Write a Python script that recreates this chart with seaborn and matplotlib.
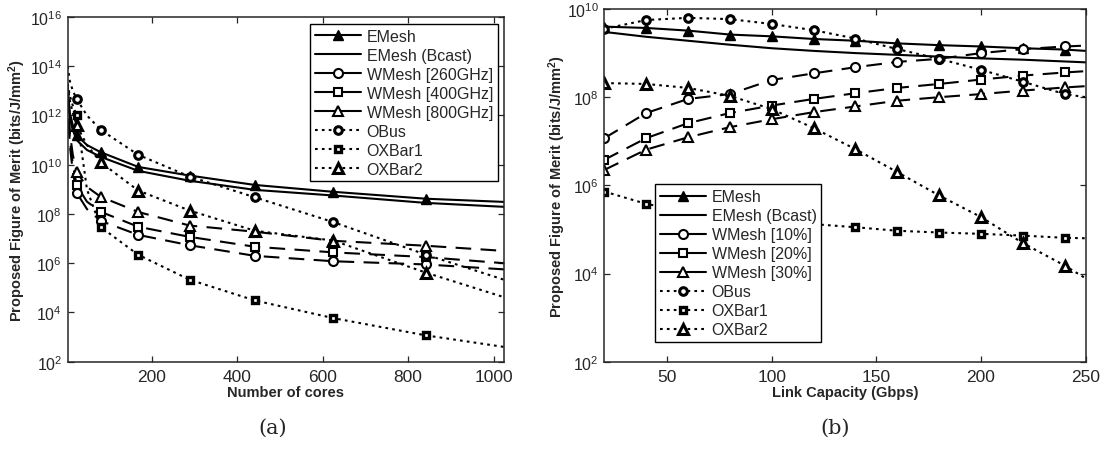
import numpy as np
import pandas as pd
import matplotlib
matplotlib.use("Agg")
import matplotlib.pyplot as plt
import seaborn as sns
from matplotlib.lines import Line2D

# ---------------- data (values stored as log10 of the figure of merit) ----------------
cores = [4, 9, 16, 25, 49, 81, 169, 289, 441, 625, 841, 1024]
cores_markers = [3, 5, 6, 7, 8, 9, 10]
cores_ticks = [200, 400, 600, 800, 1000]

a_emesh = [13.1, 12.1, 11.6, 11.2, 10.8, 10.51, 9.91, 9.56, 9.18, 8.90, 8.62, 8.49]
a_emesh_bcast = [13.0, 11.9, 11.4, 11.0, 10.6, 10.32, 9.75, 9.35, 8.98, 8.75, 8.45, 8.29]
a_wmesh_260 = [12.7, 10.8, 9.7, 8.86, 8.2, 7.72, 7.15, 6.73, 6.30, 6.08, 5.95, 5.75]
a_wmesh_400 = [12.8, 11.0, 10.0, 9.16, 8.5, 8.09, 7.48, 7.07, 6.67, 6.44, 6.25, 6.00]
a_wmesh_800 = [12.9, 11.3, 10.4, 9.71, 9.1, 8.70, 8.08, 7.53, 7.28, 6.91, 6.71, 6.50]
a_obus = [14.0, 13.4, 13.0, 12.67, 12.0, 11.42, 10.40, 9.52, 8.68, 7.67, 6.35, 5.33]
a_oxbar1 = [13.3, 12.8, 12.4, 12.0, 9.0, 7.47, 6.34, 5.33, 4.49, 3.77, 3.07, 2.60]
a_oxbar2 = [13.2, 12.6, 12.1, 11.6, 10.8, 10.1, 8.95, 8.14, 7.32, 6.92, 5.62, 4.62]
a_labels = ["EMesh", "EMesh (Bcast)", "WMesh [260GHz]", "WMesh [400GHz]",
            "WMesh [800GHz]", "OBus", "OXBar1", "OXBar2"]

link = [20, 40, 60, 80, 100, 120, 140, 160, 180, 200, 220, 240, 250]
link_markers = list(range(12))
link_ticks = [50, 100, 150, 200, 250]

b_emesh = [9.60, 9.57, 9.51, 9.42, 9.38, 9.32, 9.28, 9.22, 9.18, 9.15, 9.11, 9.08, 9.05]
b_emesh_bcast = [9.48, 9.37, 9.28, 9.19, 9.11, 9.05, 9.00, 8.96, 8.92, 8.88, 8.85, 8.81, 8.79]
b_wmesh_10 = [7.07, 7.64, 7.96, 8.07, 8.39, 8.54, 8.68, 8.80, 8.87, 9.00, 9.09, 9.15, 9.17]
b_wmesh_20 = [6.58, 7.07, 7.41, 7.64, 7.81, 7.96, 8.09, 8.21, 8.30, 8.40, 8.49, 8.56, 8.59]
b_wmesh_30 = [6.35, 6.81, 7.09, 7.32, 7.50, 7.66, 7.79, 7.92, 8.00, 8.07, 8.15, 8.22, 8.25]
b_obus = [9.55, 9.75, 9.80, 9.77, 9.66, 9.52, 9.33, 9.09, 8.87, 8.62, 8.35, 8.07, 8.00]
b_oxbar1 = [5.86, 5.58, 5.40, 5.28, 5.20, 5.12, 5.05, 4.97, 4.93, 4.90, 4.86, 4.81, 4.80]
b_oxbar2 = [8.32, 8.30, 8.21, 8.03, 7.73, 7.30, 6.82, 6.30, 5.77, 5.28, 4.69, 4.18, 3.89]
b_labels = ["EMesh", "EMesh (Bcast)", "WMesh [10%]", "WMesh [20%]",
            "WMesh [30%]", "OBus", "OXBar1", "OXBar2"]

# ---------------- styles ----------------
DASH = (0, (7.5, 4.5))
DOT = (0, (1.3, 2.0))
LW = 1.5
styles = [
    dict(ls="-", marker="^", mfc="k", mew=1.0, ms=6.5),
    dict(ls="-", marker=None, mfc="k", mew=1.0, ms=6.5),
    dict(ls=DASH, marker="o", mfc="w", mew=1.5, ms=6.5),
    dict(ls=DASH, marker="s", mfc="w", mew=1.5, ms=6),
    dict(ls=DASH, marker="^", mfc="w", mew=1.5, ms=7),
    dict(ls=DOT, marker="o", mfc="w", mew=2.2, ms=5.5),
    dict(ls=DOT, marker="s", mfc="w", mew=2.4, ms=5),
    dict(ls=DOT, marker="^", mfc="w", mew=2.2, ms=6.5),
]
legend_ls = ["-", "-", "-", "-", "-", DOT, DOT, DOT]

sns.set_style("ticks")
plt.rcParams["font.family"] = ["Liberation Sans", "DejaVu Sans"]
plt.rcParams["mathtext.fontset"] = "custom"
plt.rcParams["mathtext.rm"] = "Liberation Sans"
plt.rcParams["mathtext.it"] = "Liberation Sans:italic"
plt.rcParams["mathtext.bf"] = "Liberation Sans:bold"

fig = plt.figure(figsize=(11.05, 4.52), dpi=100)
W, H = 1105, 452
ax_a = fig.add_axes([67.7 / W, 1 - 362.7 / H, (504 - 67.7) / W, (362.7 - 18) / H])
ax_b = fig.add_axes([604.3 / W, 1 - 362.7 / H, (1085.7 - 604.3) / W, (362.7 - 10) / H])


def draw(ax, x, series, labels, mk_idx):
    for vals, lab, st in zip(series, labels, styles):
        df = pd.DataFrame({"x": x, "y": [10.0 ** v for v in vals]})
        sns.lineplot(data=df, x="x", y="y", ax=ax, color="k", lw=LW,
                     linestyle=st["ls"], marker=st["marker"], markevery=mk_idx,
                     markerfacecolor=st["mfc"], markeredgecolor="k",
                     markeredgewidth=st["mew"], markersize=st["ms"],
                     legend=False, errorbar=None)


def handles(labels):
    hs = []
    for lab, st, ls in zip(labels, styles, legend_ls):
        hs.append(Line2D([], [], color="k", lw=LW, linestyle=ls, marker=st["marker"],
                         markerfacecolor=st["mfc"], markeredgecolor="k",
                         markeredgewidth=st["mew"], markersize=st["ms"], label=lab))
    return hs


draw(ax_a, cores, [a_emesh, a_emesh_bcast, a_wmesh_260, a_wmesh_400, a_wmesh_800,
                   a_obus, a_oxbar1, a_oxbar2], a_labels, cores_markers)
draw(ax_b, link, [b_emesh, b_emesh_bcast, b_wmesh_10, b_wmesh_20, b_wmesh_30,
                  b_obus, b_oxbar1, b_oxbar2], b_labels, link_markers)

for ax in (ax_a, ax_b):
    ax.set_yscale("log")
    ax.tick_params(direction="in", top=True, right=True, length=4, width=0.9,
                   labelsize=12.5, pad=5)
    ax.tick_params(axis="y", labelsize=11.5, pad=4)
    ax.tick_params(which="minor", left=False, right=False, top=False, bottom=False)
    for s in ax.spines.values():
        s.set_linewidth(1.1)
        s.set_visible(True)
    ax.set_ylabel("Proposed Figure of Merit (bits/J/mm$^\\mathbf{2}$)", fontsize=10.5,
                  fontweight="bold")

ax_a.set_xlim(4, 1024)
ax_a.set_ylim(1e2, 1e16)
ax_a.set_xticks(cores_ticks)
ax_a.set_yticks([10.0 ** k for k in range(2, 17, 2)])
ax_a.set_yticklabels([f"$10^{{{k}}}$" for k in range(2, 17, 2)])
ax_a.set_xlabel("Number of cores", fontsize=10.5, fontweight="bold", labelpad=1)
ax_a.yaxis.set_label_coords(-0.092, 0.5)

ax_b.set_xlim(20, 250)
ax_b.set_ylim(1e2, 1e10)
ax_b.set_xticks(link_ticks)
ax_b.set_yticks([10.0 ** k for k in range(2, 11, 2)])
ax_b.set_yticklabels([f"$10^{{{k}}}$" for k in range(2, 11, 2)])
ax_b.set_xlabel("Link Capacity (Gbps)", fontsize=10.5, fontweight="bold", labelpad=1)
ax_b.yaxis.set_label_coords(-0.0745, 0.5)

leg_kw = dict(frameon=True, fancybox=False, edgecolor="k", framealpha=1,
              fontsize=11.5, handlelength=2.9, handletextpad=0.35, labelspacing=0.25,
              borderpad=0.3, borderaxespad=0)
la = ax_a.legend(handles=handles(a_labels), loc="upper right",
                 bbox_to_anchor=(0.9856, 0.980), **leg_kw)
lb = ax_b.legend(handles=handles(b_labels), loc="lower left",
                 bbox_to_anchor=(0.105, 0.056), **leg_kw)
for lg in (la, lb):
    lg.get_frame().set_linewidth(1.0)

fig.text(273 / W, 1 - 428 / H, "(a)", ha="center", va="center", fontsize=15,
         family=["DejaVu Serif"])
fig.text(835 / W, 1 - 428 / H, "(b)", ha="center", va="center", fontsize=15,
         family=["DejaVu Serif"])

fig.savefig("out.png", dpi=100)
